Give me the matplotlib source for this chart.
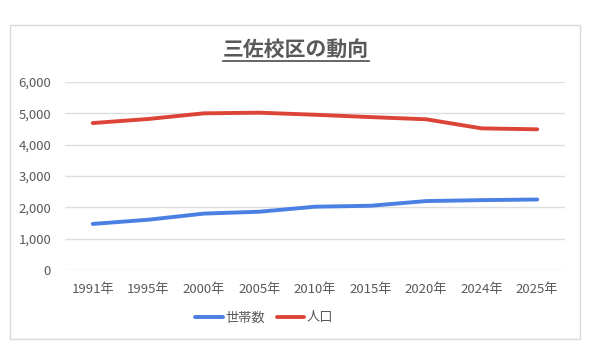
import matplotlib
matplotlib.use("Agg")
import matplotlib.pyplot as plt
from matplotlib.patches import Rectangle
from matplotlib.lines import Line2D
from matplotlib.ticker import FuncFormatter

plt.rcParams['font.family'] = ['Noto Sans CJK JP', 'DejaVu Sans']

categories = ["1991年", "1995年", "2000年", "2005年", "2010年", "2015年", "2020年", "2024年", "2025年"]
households = [1470, 1605, 1800, 1860, 2020, 2050, 2200, 2230, 2250]
population = [4690, 4820, 5000, 5020, 4955, 4880, 4810, 4520, 4490]
series_names = ["世帯数", "人口"]
title = "三佐校区の動向"

W, H = 590, 353
fig = plt.figure(figsize=(W / 100, H / 100), dpi=100)

# outer chart border
fig.patches.append(Rectangle((10 / W, 1 - 339 / H), 570 / W, 314 / H,
                             transform=fig.transFigure, fill=False,
                             edgecolor="#d9d9d9", linewidth=1.0))

ax = fig.add_axes([65 / W, 1 - 270 / H, 500 / W, 188 / H])
x = list(range(len(categories)))
ax.plot(x, households, color="#4a80e3", linewidth=2.8, solid_capstyle="round",
        solid_joinstyle="round", label=series_names[0], zorder=3)
ax.plot(x, population, color="#db4437", linewidth=2.8, solid_capstyle="round",
        solid_joinstyle="round", label=series_names[1], zorder=3)

ax.set_xlim(-0.5, len(categories) - 0.5)
ax.set_ylim(0, 6000)
ax.set_yticks(range(0, 6001, 1000))
ax.yaxis.set_major_formatter(FuncFormatter(lambda v, p: f"{int(v):,}"))
ax.set_xticks(x)
ax.set_xticklabels(categories)
ax.grid(axis="y", color="#dedede", linewidth=1.0)
ax.set_axisbelow(True)
for s in ax.spines.values():
    s.set_visible(False)
ax.tick_params(axis="both", length=0, labelsize=9.5, labelcolor="#595959")
ax.tick_params(axis="y", pad=10)
ax.tick_params(axis="x", pad=9)

leg = fig.legend(loc="center", bbox_to_anchor=(264 / W, 1 - 318 / H), ncol=2,
                 frameon=False, fontsize=9.5, handlelength=2.1, handletextpad=0.15,
                 columnspacing=0.9)
for t in leg.get_texts():
    t.set_color("#595959")

tt = fig.text(296 / W, 1 - 49 / H, title, ha="center", va="center",
              fontsize=15, fontweight="bold", color="#595959")
fig.canvas.draw()
bb = tt.get_window_extent().transformed(fig.transFigure.inverted())
uy = 1 - 61 / H
fig.lines.append(Line2D([bb.x0, bb.x1], [uy, uy], transform=fig.transFigure,
                        color="#595959", linewidth=1.3))

fig.savefig("out.png", dpi=100, facecolor="white")
